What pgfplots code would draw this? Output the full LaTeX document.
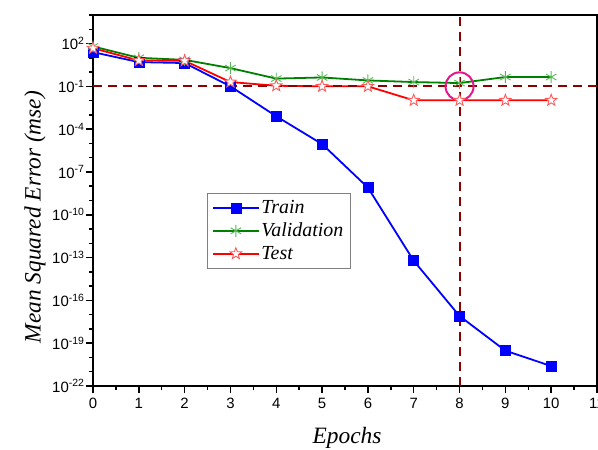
\documentclass[border=0pt]{standalone}
\usepackage{fontspec}
\setmainfont{Liberation Serif}
\setsansfont{Liberation Sans}
\usepackage{pgfplots}
\pgfplotsset{compat=1.18}
\usetikzlibrary{plotmarks}

\definecolor{trainblue}{HTML}{0000FF}
\definecolor{valgreen}{HTML}{008000}
\definecolor{valmark}{HTML}{55B855}
\definecolor{testred}{HTML}{FF0000}
\definecolor{testmark}{HTML}{FF5A5A}
\definecolor{guide}{HTML}{8B0000}
\definecolor{ring}{HTML}{E6168C}

% open five point star
\pgfdeclareplotmark{ostar}{%
  \pgfpathmoveto{\pgfpointpolar{90}{\pgfplotmarksize}}%
  \pgfpathlineto{\pgfpointpolar{126}{0.42\pgfplotmarksize}}%
  \pgfpathlineto{\pgfpointpolar{162}{\pgfplotmarksize}}%
  \pgfpathlineto{\pgfpointpolar{198}{0.42\pgfplotmarksize}}%
  \pgfpathlineto{\pgfpointpolar{234}{\pgfplotmarksize}}%
  \pgfpathlineto{\pgfpointpolar{270}{0.42\pgfplotmarksize}}%
  \pgfpathlineto{\pgfpointpolar{306}{\pgfplotmarksize}}%
  \pgfpathlineto{\pgfpointpolar{342}{0.42\pgfplotmarksize}}%
  \pgfpathlineto{\pgfpointpolar{18}{\pgfplotmarksize}}%
  \pgfpathlineto{\pgfpointpolar{54}{0.42\pgfplotmarksize}}%
  \pgfpathclose
  \pgfusepathqfillstroke}

\begin{document}
\begin{tikzpicture}
\path[use as bounding box] (-93bp,-64bp) rectangle (505bp,386bp);
\begin{axis}[
    at={(0,0)}, anchor=south west,
    scale only axis,
    width=504bp, height=371bp,
    ymode=log,
    xmin=0, xmax=11,
    ymin=1e-22, ymax=1e4,
    axis line style={line width=1.8pt},
    xtick={0,1,...,11},
    xticklabels={0,1,2,3,4,5,6,7,8,9,10,11},
    minor xtick={0.5,1.5,...,10.5},
    ytick={1e-22,1e-19,1e-16,1e-13,1e-10,1e-7,1e-4,1e-1,1e2},
    yticklabels={10\textsuperscript{-22},10\textsuperscript{-19},10\textsuperscript{-16},10\textsuperscript{-13},10\textsuperscript{-10},10\textsuperscript{-7},10\textsuperscript{-4},10\textsuperscript{-1},10\textsuperscript{2}},
    minor ytick={1e-21,1e-20,1e-18,1e-17,1e-15,1e-14,1e-12,1e-11,1e-9,1e-8,1e-6,1e-5,1e-3,1e-2,1e0,1e1,1e3,1e4},
    tick pos=left,
    tick align=outside,
    major tick length=7bp,
    minor tick length=4bp,
    every tick/.style={black, line width=1.5pt},
    tick label style={font=\sffamily\fontsize{15}{15}\selectfont},
    xticklabel style={yshift=-2bp},
    yticklabel style={xshift=2bp},
    label style={font=\itshape\fontsize{23.5}{24}\selectfont},
    xlabel={Epochs},
    ylabel={Mean Squared Error (mse)},
    xlabel style={at={(axis description cs:0.504,-0.14)}, anchor=center},
    ylabel style={at={(axis description cs:-0.115,0.455)}, anchor=center},
    legend style={at={(axis description cs:0.226,0.52)}, anchor=north west,
        draw=gray, line width=0.8pt, fill=white,
        font=\itshape\fontsize{20}{22}\selectfont,
        row sep=4bp, inner xsep=5bp, inner ysep=5bp},
    legend cell align=left,
    legend image code/.code={%
        \draw[#1, line width=1.8pt] (0cm,0cm) -- (1.6cm,0cm);
        \draw[#1, only marks] plot coordinates {(0.8cm,0cm)};},
]
\addplot[trainblue, line width=1.8pt, mark=square*, mark size=5bp,
    mark options={fill=trainblue, solid, line width=0.5pt}] coordinates {
    (0,25) (1,5) (2,4.3) (3,0.1) (4,8e-4) (5,9e-6) (6,8e-9)
    (7,6e-14) (8,8e-18) (9,3e-20) (10,2.5e-21)
};
\addlegendentry{Train}
\addplot[valgreen, line width=1.8pt, mark=asterisk, mark size=6bp,
    mark options={valmark, line width=0.9pt}] coordinates {
    (0,63) (1,10) (2,7.2) (3,1.9) (4,0.35) (5,0.42) (6,0.26)
    (7,0.2) (8,0.17) (9,0.45) (10,0.45)
};
\addlegendentry{Validation}
\addplot[testred, line width=1.8pt, mark=ostar, mark size=6bp,
    mark options={testmark, fill=white, line width=0.9pt}] coordinates {
    (0,47) (1,6.5) (2,6.2) (3,0.2) (4,0.11) (5,0.1) (6,0.1)
    (7,0.0105) (8,0.0105) (9,0.0105) (10,0.0105)
};
\addlegendentry{Test}

\addplot[guide, line width=2pt, dash pattern=on 9bp off 6bp, forget plot]
    coordinates {(0,0.1) (11,0.1)};
\addplot[guide, line width=2pt, dash pattern=on 9bp off 6bp, forget plot]
    coordinates {(8,1e-22) (8,1e4)};
\draw[ring, line width=2pt] (axis cs:8,0.1) circle[radius=14bp];
\end{axis}
\end{tikzpicture}
\end{document}
